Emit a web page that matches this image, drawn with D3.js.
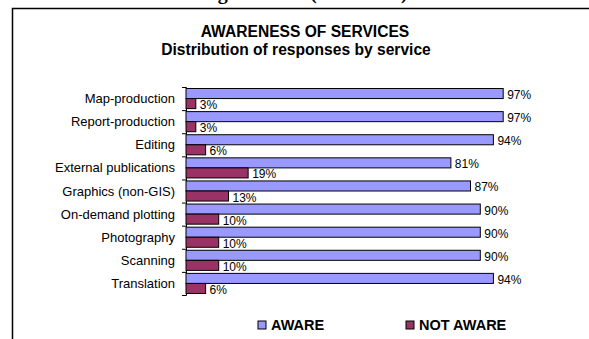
<!DOCTYPE html>
<html>
<head>
<meta charset="utf-8">
<script src="https://cdn.jsdelivr.net/npm/d3@7"></script>
<style>
  html, body { margin: 0; padding: 0; background: #fff; }
  svg { display: block; }
  text { font-family: Arial, "Liberation Sans", sans-serif; fill: #000; }
</style>
</head>
<body>
<svg id="chart" width="589" height="339"></svg>
<script>
// Services surveyed, top to bottom
const categories = [
  "Map-production", "Report-production", "Editing", "External publications",
  "Graphics (non-GIS)", "On-demand plotting", "Photography", "Scanning", "Translation"
];
// Share of respondents (%) per service
const aware    = [97, 97, 94, 81, 87, 90, 90, 90, 94];
const notAware = [3, 3, 6, 19, 13, 10, 10, 10, 6];
const seriesNames = ["AWARE", "NOT AWARE"];
const seriesColors = ["#9999FF", "#993366"];

const svg = d3.select("#chart");
svg.append("rect").attr("width", 589).attr("height", 339).attr("fill", "#fff");

// Running caption of the page, mostly cut off above the frame
const cap = svg.append("text")
  .attr("y", -1.5)
  .style("font-family", "'Liberation Serif', 'Times New Roman', serif")
  .style("font-weight", "bold")
  .style("font-size", "20px");
cap.append("tspan").attr("x", 200).text("Figure 4.12");
cap.append("tspan").attr("x", 310).text("(continued)");

// Chart frame (top and left edges visible)
svg.append("path")
  .attr("d", "M12.5,345 L12.5,8.5 L600,8.5")
  .attr("fill", "none").attr("stroke", "#000").attr("stroke-width", 1.5);

// Titles
svg.append("text").attr("x", 305).attr("y", 37)
  .attr("text-anchor", "middle")
  .style("font-weight", "bold").style("font-size", "15.6px")
  .text("AWARENESS OF SERVICES");
svg.append("text").attr("x", 296).attr("y", 55)
  .attr("text-anchor", "middle")
  .style("font-weight", "bold").style("font-size", "15.6px")
  .text("Distribution of responses by service");

// Scales
const plotTop = 87, plotBottom = 295;
const y = d3.scaleBand().domain(categories).range([plotTop, plotBottom]).padding(0);
const inner = d3.scaleBand().domain(seriesNames)
  .range([1.5, y.bandwidth() - 1.5]).padding(0);
const x = d3.scaleLinear().domain([0, 100]).range([186, 513]);

// Category axis with ticks between categories
const tickScale = d3.scaleLinear().domain([0, categories.length]).range([plotTop, plotBottom]);
const axisG = svg.append("g").attr("transform", "translate(186,0)")
  .call(d3.axisLeft(tickScale).ticks(categories.length).tickSize(4).tickFormat(""));
axisG.select(".domain").attr("stroke", "#000");
axisG.selectAll(".tick line").attr("stroke", "#000");

svg.append("g").selectAll("text")
  .data(categories).join("text")
  .attr("x", 175)
  .attr("y", d => y(d) + y.bandwidth() / 2 + 4.5)
  .attr("text-anchor", "end")
  .style("font-size", "13px")
  .text(d => d);

// Bars
const rows = categories.map((c, i) => ({ c, vals: [aware[i], notAware[i]] }));
const groups = svg.append("g").selectAll("g")
  .data(rows).join("g")
  .attr("transform", d => `translate(0,${y(d.c)})`);

groups.selectAll("rect")
  .data(d => d.vals.map((v, j) => ({ v, s: seriesNames[j], col: seriesColors[j] })))
  .join("rect")
  .attr("x", x(0))
  .attr("y", d => inner(d.s))
  .attr("width", d => x(d.v) - x(0))
  .attr("height", inner.bandwidth())
  .attr("fill", d => d.col)
  .attr("stroke", "#000")
  .attr("stroke-width", 1);

groups.selectAll("text.val")
  .data(d => d.vals.map((v, j) => ({ v, s: seriesNames[j] })))
  .join("text")
  .attr("class", "val")
  .attr("x", d => x(d.v) + 4)
  .attr("y", d => inner(d.s) + inner.bandwidth() / 2 + 5.5)
  .style("font-size", "12px")
  .text(d => d.v + "%");

// Legend
const legendX = [258, 406];
const legend = svg.append("g").selectAll("g")
  .data(seriesNames).join("g")
  .attr("transform", (d, i) => `translate(${legendX[i]},321)`);
legend.append("rect")
  .attr("width", 8).attr("height", 8)
  .attr("fill", (d, i) => seriesColors[i])
  .attr("stroke", "#000").attr("stroke-width", 1);
legend.append("text")
  .attr("x", 13).attr("y", 9)
  .style("font-weight", "bold").style("font-size", "14.5px")
  .text(d => d);
</script>
</body>
</html>
